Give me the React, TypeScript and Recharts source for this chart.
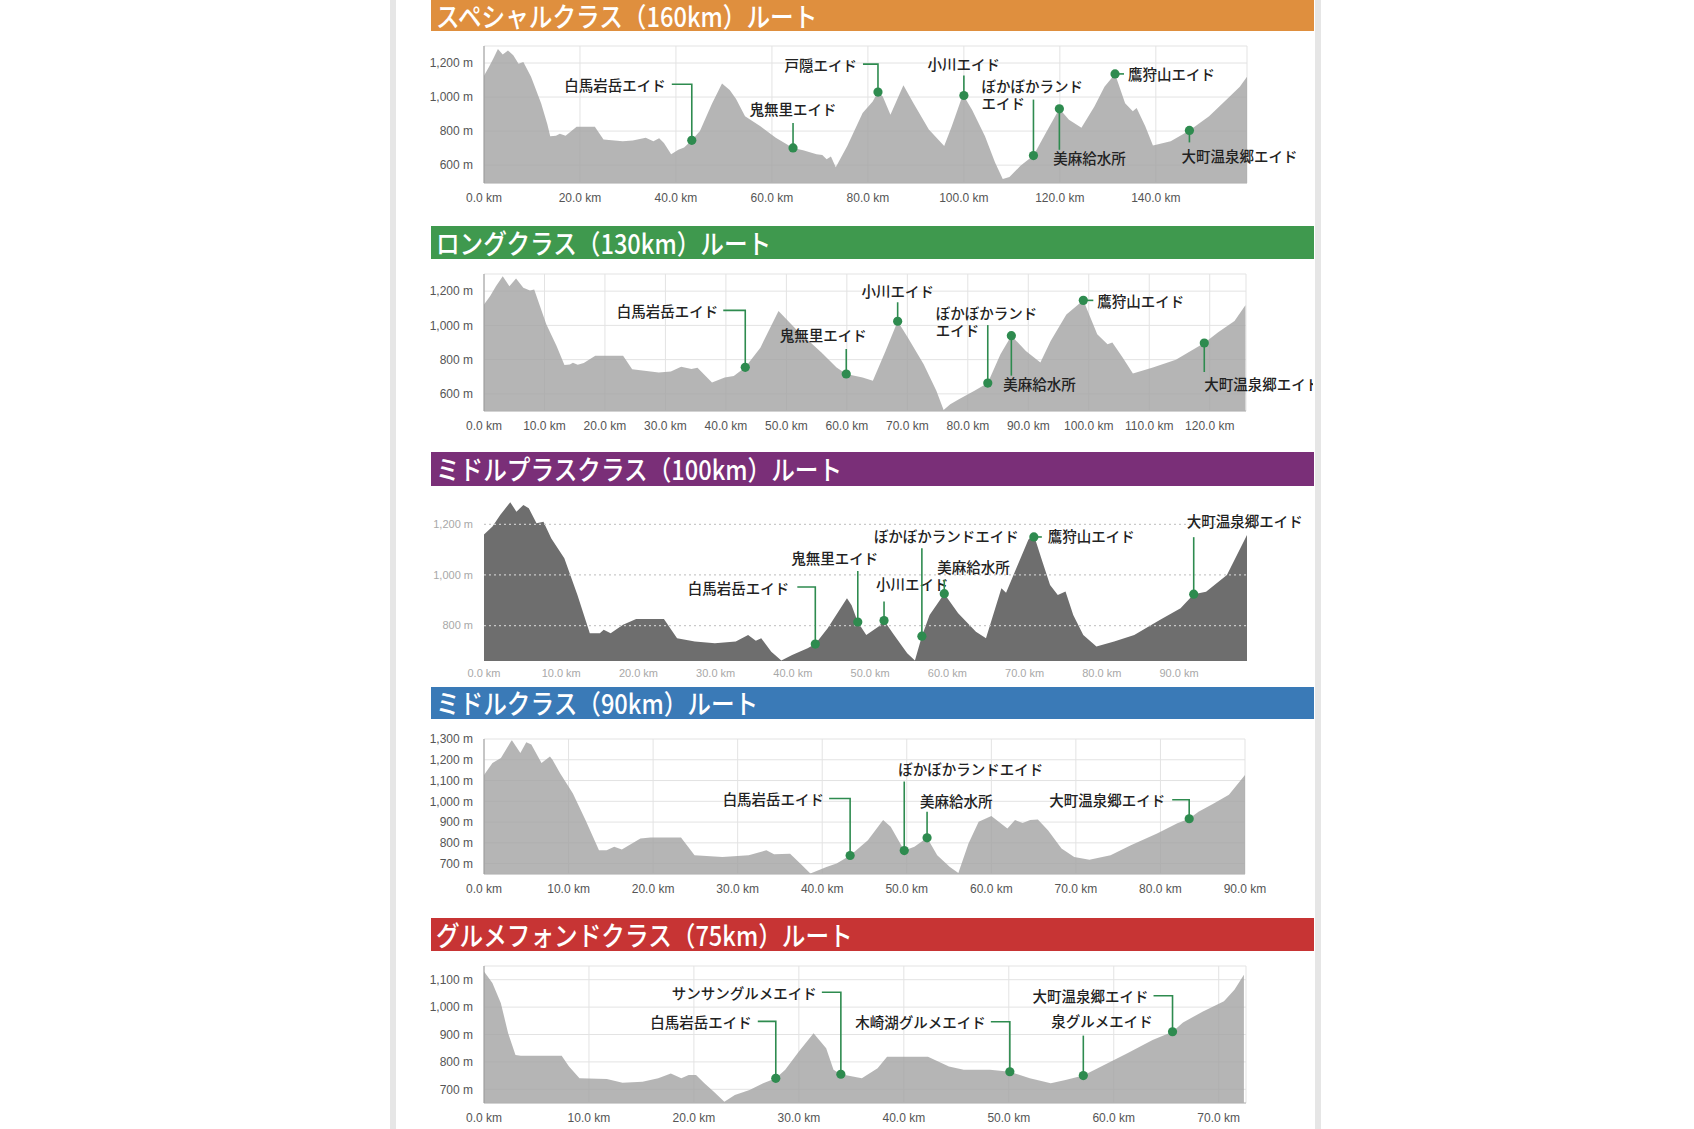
import React from 'react';
import { ComposedChart, Area, Scatter, XAxis, YAxis, CartesianGrid, ReferenceLine } from 'recharts';

const GREEN = '#2e8b4f';
const JP = '"Noto Sans CJK JP", "Noto Sans", sans-serif';
const LAT = '"Liberation Sans", Arial, sans-serif';

// route titles
const titles = [
  'スペシャルクラス（160km）ルート',
  'ロングクラス（130km）ルート',
  'ミドルプラスクラス（100km）ルート',
  'ミドルクラス（90km）ルート',
  'グルメフォンドクラス（75km）ルート',
];

// elevation profiles: [km, m]
const profile160 = [
  [0, 1125], [1, 1175], [2, 1230], [2.9, 1283], [3.9, 1250], [5, 1273], [6.1, 1245], [7.2, 1195], [8.2, 1206],
  [9.8, 1119], [11.9, 964], [13.2, 840], [13.8, 770], [15, 772], [15.8, 785], [17, 772], [19.3, 825], [23.1, 825],
  [24.9, 751], [28.9, 741], [31, 745], [33.7, 761], [35.3, 740], [36.5, 758], [37.5, 730], [39, 664], [40.5, 690],
  [41.7, 703], [43.3, 746], [45, 800], [47.5, 960], [49.6, 1080], [51.2, 1041], [52.5, 990], [54.4, 887], [57.6, 828],
  [60.8, 761], [64.4, 701], [66.5, 688], [69.3, 664], [70.5, 660], [71.4, 635], [72.3, 650], [73.3, 587], [75.7, 712],
  [78.9, 906], [81, 974], [82.1, 1029], [83.1, 1003], [84.7, 896], [87.4, 1070], [89.5, 964], [92.7, 809], [95.9, 712],
  [97.5, 830], [99.8, 1015], [101.7, 925], [104.4, 770], [106.5, 616], [108.1, 519], [109.5, 530], [111.8, 596],
  [114.5, 656], [117.1, 790], [119.9, 931], [121.9, 867], [124.5, 819], [127.2, 945], [129.3, 1061], [131.5, 1136],
  [133.6, 964], [135.2, 916], [136, 935], [137.8, 828], [139.4, 716], [143.1, 741], [147, 804], [151.1, 887],
  [155.4, 1003], [157.5, 1060], [159, 1119],
];
const profile130 = [
  [0, 1122], [1, 1170], [2, 1230], [3.1, 1287], [4.2, 1229], [5.3, 1274], [6.5, 1219], [7.6, 1204], [8.3, 1210],
  [10.3, 1006], [12, 880], [13.3, 769], [14.2, 772], [14.7, 782], [15.5, 770], [16.5, 780], [18.4, 822], [23, 822],
  [24.5, 744], [28.9, 725], [30.9, 730], [32.6, 758], [34.3, 745], [35.3, 752], [37.7, 667], [39.8, 696], [41.3, 705],
  [43.2, 755], [45.7, 870], [48.7, 1084], [51.6, 977], [55.8, 841], [58.3, 754], [59.9, 716], [62.6, 696], [64.3, 676],
  [66.4, 851], [68.4, 1024], [70.1, 928], [72.7, 773], [74.8, 618], [76, 506], [77.1, 540], [78.6, 570], [81.1, 618],
  [83.3, 663], [85.4, 831], [87.2, 940], [89.6, 851], [92, 783], [93.7, 909], [96.3, 1064], [99.1, 1146], [101.4, 948],
  [103.1, 890], [103.9, 900], [105.6, 812], [107.3, 719], [110.6, 754], [114.4, 800], [119.1, 897], [121.4, 960],
  [124.1, 1025], [125.9, 1118],
];
const profile100 = [
  [0, 1160], [1.1, 1191], [2.1, 1237], [3.4, 1287], [4.2, 1250], [5.1, 1276], [5.8, 1263], [6.8, 1204], [7.7, 1210],
  [8.7, 1145], [10.4, 1066], [12.1, 921], [13.7, 770], [15, 770], [15.5, 783], [16.4, 770], [18, 803], [19.7, 826],
  [23.3, 826], [25, 750], [27.3, 737], [29.9, 730], [32.6, 737], [34.2, 763], [35.2, 740], [35.9, 750], [37.2, 697],
  [38.5, 662], [39.9, 684], [41.9, 710], [42.9, 727], [44.5, 789], [47, 908], [47.6, 880], [48.4, 814], [49.5, 763],
  [51.1, 796], [51.8, 820], [53.1, 763], [54.8, 691], [55.8, 662], [56.7, 758], [57.7, 842], [59.6, 926], [61.4, 849],
  [63.7, 776], [65, 750], [67, 947], [67.6, 930], [69.3, 1053], [70.5, 1140], [71.2, 1158], [72.3, 1053], [73.3, 960],
  [74.3, 921], [75.3, 935], [76.3, 842], [77.6, 763], [79.3, 717], [81.6, 737], [84.2, 763], [87.5, 822], [90.2, 868],
  [91.9, 924], [93.5, 934], [96.2, 1000], [97.5, 1079], [98.8, 1158],
];
const profile90 = [
  [0, 1127], [1, 1184], [2, 1208], [3.2, 1289], [3.3, 1294], [4.3, 1232], [5, 1284], [5.6, 1273], [6.8, 1184],
  [7.8, 1216], [8.1, 1200], [9, 1135], [10.5, 1039], [12, 910], [13.6, 764], [14.5, 764], [15.4, 781], [16.3, 768],
  [18.5, 821], [19.7, 826], [23.3, 826], [24.9, 740], [28.2, 732], [31.3, 740], [33.4, 764], [34.3, 745], [36.2, 748],
  [37.4, 700], [38.6, 652], [40.5, 684], [41.7, 700], [43.3, 739], [45.4, 813], [47.2, 910], [48.1, 877], [49.7, 763],
  [50.9, 781], [52.4, 824], [53.6, 740], [55.1, 684], [56.1, 655], [57.3, 797], [58.5, 902], [60, 929], [61.9, 869],
  [62.8, 910], [63.7, 895], [64.6, 910], [65.5, 913], [66.7, 861], [68.3, 773], [69.8, 732], [71.6, 719], [74.1, 740],
  [76.5, 789], [79.6, 845], [82, 894], [83.4, 916], [84.5, 950], [86.3, 990], [88.1, 1031], [90, 1127],
];
const profile75 = [
  [0, 1130], [0.8, 1088], [1.6, 1015], [2.3, 905], [3, 825], [3.5, 822], [7.4, 822], [8.1, 783], [9.1, 740],
  [11.7, 738], [13.2, 724], [15.1, 728], [16.6, 740], [17.8, 758], [18.8, 740], [19.5, 752], [20.2, 752], [21, 722],
  [21.9, 691], [22.9, 655], [23.9, 679], [25.3, 697], [26.6, 722], [27.8, 740], [28.7, 771], [30, 838], [31.4, 905],
  [32.6, 850], [33.3, 771], [34, 755], [36, 740], [37.5, 777], [38.4, 819], [42.3, 819], [44.3, 783], [45.7, 771],
  [48.2, 771], [50.1, 764], [52, 740], [54, 722], [55.4, 734], [57.1, 750], [58.8, 783], [61.3, 832], [63.7, 880],
  [65.6, 910], [66.6, 944], [68.5, 984], [70.5, 1021], [71.5, 1063], [72.4, 1118],
];

// aid stations: [name, km, m]
const aids160 = [
  ['白馬岩岳エイド', 43.3, 746], ['鬼無里エイド', 64.4, 701], ['戸隠エイド', 82.1, 1029], ['小川エイド', 100, 1009],
  ['ぼかぼかランド\nエイド', 114.5, 656], ['美麻給水所', 119.9, 931], ['鷹狩山エイド', 131.5, 1136], ['大町温泉郷エイド', 147, 804],
];
const aids130 = [
  ['白馬岩岳エイド', 43.2, 755], ['鬼無里エイド', 59.9, 716], ['小川エイド', 68.4, 1024], ['ぼかぼかランド\nエイド', 83.3, 663],
  ['美麻給水所', 87.2, 940], ['鷹狩山エイド', 99.1, 1146], ['大町温泉郷エイド', 119.1, 897],
];
const aids100 = [
  ['白馬岩岳エイド', 42.9, 727], ['鬼無里エイド', 48.4, 814], ['小川エイド', 51.8, 820], ['ぼかぼかランドエイド', 56.7, 758],
  ['美麻給水所', 59.6, 926], ['鷹狩山エイド', 71.2, 1150], ['大町温泉郷エイド', 91.9, 924],
];
const aids90 = [
  ['白馬岩岳エイド', 43.3, 739], ['ぼかぼかランドエイド', 49.7, 763], ['美麻給水所', 52.4, 824], ['大町温泉郷エイド', 83.4, 916],
];
const aids75 = [
  ['白馬岩岳エイド', 27.8, 740], ['サンサングルメエイド', 34.0, 755], ['木崎湖グルメエイド', 50.1, 764],
  ['泉グルメエイド', 57.1, 750], ['大町温泉郷エイド', 65.6, 910],
];

// axis ticks
const kmTicks160 = [0, 20, 40, 60, 80, 100, 120, 140];
const kmTicks130 = [0, 10, 20, 30, 40, 50, 60, 70, 80, 90, 100, 110, 120];
const kmTicks100 = [0, 10, 20, 30, 40, 50, 60, 70, 80, 90];
const kmTicks90 = [0, 10, 20, 30, 40, 50, 60, 70, 80, 90];
const kmTicks75 = [0, 10, 20, 30, 40, 50, 60, 70];
const mTicks160 = [600, 800, 1000, 1200];
const mTicks130 = [600, 800, 1000, 1200];
const mTicks100 = [800, 1000, 1200];
const mTicks90 = [700, 800, 900, 1000, 1100, 1200, 1300];
const mTicks75 = [700, 800, 900, 1000, 1100];

// callout leader layout (px, relative to the dot)
const L = (lx, ly, tx, ty, anchor) => ({ lx, ly, tx, ty, anchor });
const callouts160 = {
  '白馬岩岳エイド': L(-20, -56, -26, -56, 'end'),
  '鬼無里エイド': L(0, -25, 0, -39, 'middle'),
  '戸隠エイド': L(-15, -28, -21, -28, 'end'),
  '小川エイド': L(0, -20, 0, -32, 'middle'),
  'ぼかぼかランド\nエイド': L(0, -56, -52, -70, 'start'),
  '美麻給水所': L(0, 41, -6, 49, 'start'),
  '鷹狩山エイド': L(9, 0, 13, 0, 'start'),
  '大町温泉郷エイド': L(0, 12, -8, 25, 'start'),
};
const callouts130 = {
  '白馬岩岳エイド': L(-22, -57, -27, -57, 'end'),
  '鬼無里エイド': L(0, -25, -23, -40, 'middle'),
  '小川エイド': L(0, -19, 0, -31, 'middle'),
  'ぼかぼかランド\nエイド': L(0, -58, -52, -71, 'start'),
  '美麻給水所': L(0, 40, -8, 48, 'start'),
  '鷹狩山エイド': L(10, 0, 14, 0, 'start'),
  '大町温泉郷エイド': L(0, 29, 0, 40, 'start'),
};
const callouts100 = {
  '白馬岩岳エイド': L(-18, -57, -26, -57, 'end'),
  '鬼無里エイド': L(0, -51, -23, -65, 'middle'),
  '小川エイド': L(0, -19, -8, -37, 'start'),
  'ぼかぼかランドエイド': L(0, -88, -48, -101, 'start'),
  '美麻給水所': L(0, -14, -7, -27, 'start'),
  '鷹狩山エイド': L(8, 0, 14, -1, 'start'),
  '大町温泉郷エイド': L(0, -57, -7, -74, 'start'),
};
const callouts90 = {
  '白馬岩岳エイド': L(-21, -57, -26, -57, 'end'),
  'ぼかぼかランドエイド': L(0, -69, -6, -82, 'start'),
  '美麻給水所': L(0, -26, -7, -37, 'start'),
  '大町温泉郷エイド': L(-17, -19, -24, -19, 'end'),
};
const callouts75 = {
  '白馬岩岳エイド': L(-18, -57, -24, -57, 'end'),
  'サンサングルメエイド': L(-19, -82, -24, -82, 'end'),
  '木崎湖グルメエイド': L(-19, -50, -24, -50, 'end'),
  '泉グルメエイド': L(0, -40, -32, -55, 'start'),
  '大町温泉郷エイド': L(-19, -36, -24, -36, 'end'),
};

const toRows = (p) => p.map(([km, elev]) => ({ km, elev }));
const toAids = (a) => a.map(([name, km, elev]) => ({ name, km, elev }));

const charts = [
  { profile: profile160, aids: aids160, callouts: callouts160, xTicks: kmTicks160, yTicks: mTicks160,
    xMax: 159, yDomain: [495, 1300], box: [484, 1247, 46, 183], bar: [0, 31], color: '#df8f3e' },
  { profile: profile130, aids: aids130, callouts: callouts130, xTicks: kmTicks130, yTicks: mTicks130,
    xMax: 126, yDomain: [500, 1300], box: [484, 1246, 274, 411], bar: [226, 259], color: '#3f994e' },
  { profile: profile100, aids: aids100, callouts: callouts100, xTicks: kmTicks100, yTicks: mTicks100,
    xMax: 98.8, yDomain: [660, 1300], box: [484, 1247, 499, 661], bar: [452, 486], color: '#7a2f78', dark: true },
  { profile: profile90, aids: aids90, callouts: callouts90, xTicks: kmTicks90, yTicks: mTicks90,
    xMax: 90, yDomain: [650, 1300], box: [484, 1245, 739, 874], bar: [687, 719], color: '#3a7ab7' },
  { profile: profile75, aids: aids75, callouts: callouts75, xTicks: kmTicks75, yTicks: mTicks75,
    xMax: 72.6, yDomain: [650, 1150], box: [484, 1246, 966, 1103], bar: [918, 951], color: '#c73434' },
];

const SVG_LEFT = 400;
const SVG_RIGHT = 1313;

const makeShape = (callouts) => (props) => {
  const { cx, cy, payload } = props;
  const c = callouts[payload.name];
  const lines = payload.name.split('\n');
  return (
    <g>
      <path d={`M${cx},${cy}V${cy + c.ly}H${cx + c.lx}`} stroke={GREEN} strokeWidth={1.6} fill="none" />
      <circle cx={cx} cy={cy} r={4.6} fill={GREEN} />
      {lines.map((t, i) => (
        <text key={i} x={cx + c.tx} y={cy + c.ty + i * 17} textAnchor={c.anchor} dominantBaseline="central"
          fontSize={14.5} fontFamily={JP} fontWeight={500} fill="#222">{t}</text>
      ))}
    </g>
  );
};

const Profile = ({ cfg }) => {
  const [x0, x1, y0, y1] = cfg.box;
  const top = 12;
  const axisH = 30;
  const dark = !!cfg.dark;
  const tickStyle = dark
    ? { fontSize: 11, fill: '#a8a8a8', fontFamily: LAT }
    : { fontSize: 12, fill: '#555', fontFamily: LAT };
  return (
    <div style={{ position: 'absolute', left: SVG_LEFT, top: y0 - top }}>
      <ComposedChart
        width={SVG_RIGHT - SVG_LEFT}
        height={y1 - y0 + top + axisH}
        data={toRows(cfg.profile)}
        margin={{ top, right: SVG_RIGHT - x1, bottom: 0, left: x0 - SVG_LEFT - 60 }}
      >
        {!dark && <CartesianGrid stroke="#e3e3e3" strokeWidth={1} />}
        <XAxis
          type="number"
          dataKey="km"
          domain={[0, cfg.xMax]}
          ticks={cfg.xTicks}
          interval={0}
          height={axisH}
          tickLine={false}
          tickSize={6}
          tickMargin={dark ? 2 : 4}
          axisLine={dark ? false : { stroke: '#b5b5b5' }}
          tick={tickStyle}
          tickFormatter={(v) => `${v.toFixed(1)} km`}
        />
        <YAxis
          type="number"
          dataKey="elev"
          domain={cfg.yDomain}
          ticks={cfg.yTicks}
          interval={0}
          width={60}
          tickLine={false}
          tickSize={6}
          tickMargin={5}
          axisLine={dark ? false : { stroke: '#9a9a9a' }}
          tick={tickStyle}
          tickFormatter={(v) => `${v.toLocaleString('en-US')} m`}
        />
        <Area
          type="linear"
          dataKey="elev"
          stroke="none"
          fill={dark ? '#6e6e6e' : '#a3a3a3'}
          fillOpacity={dark ? 1 : 0.8}
          isAnimationActive={false}
        />
        {dark && cfg.yTicks.map((v) => (
          <ReferenceLine key={v} y={v} stroke="#c9c9c9" strokeDasharray="2 3" strokeWidth={1.2} />
        ))}
        <Scatter data={toAids(cfg.aids)} dataKey="elev" shape={makeShape(cfg.callouts)} isAnimationActive={false} />
      </ComposedChart>
    </div>
  );
};

const App = () => {
  return (
    <div style={{ position: 'absolute', left: 0, top: 0, width: 1694, height: 1129, background: '#fff', overflow: 'hidden' }}>
      <div style={{ position: 'absolute', left: 390, top: 0, width: 6, height: 1129, background: '#e6e6e6' }} />
      <div style={{ position: 'absolute', left: 1315, top: 0, width: 6, height: 1129, background: '#e6e6e6' }} />
      {charts.map((cfg, i) => {
        const h = cfg.bar[1] - cfg.bar[0];
        return (
          <div key={i}>
            <div
              style={{
                position: 'absolute',
                left: 431,
                top: cfg.bar[0],
                width: 883,
                height: h,
                background: cfg.color,
              }}
            >
              <span
                style={{
                  position: 'absolute',
                  left: 5,
                  top: 0,
                  color: '#fff',
                  fontFamily: JP,
                  fontWeight: 500,
                  fontSize: 27,
                  lineHeight: `${h}px`,
                  whiteSpace: 'nowrap',
                  transform: 'scaleX(0.875)',
                  transformOrigin: '0 50%',
                }}
              >
                {titles[i]}
              </span>
            </div>
            <Profile cfg={cfg} />
          </div>
        );
      })}
    </div>
  );
};

export default App;
